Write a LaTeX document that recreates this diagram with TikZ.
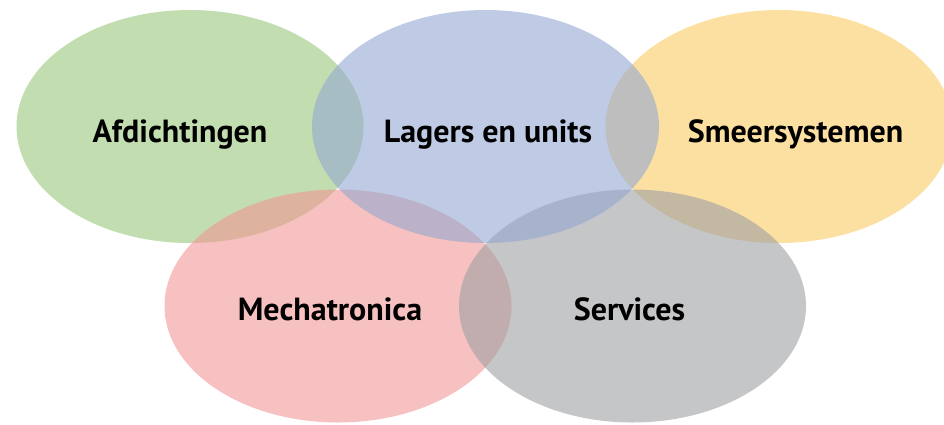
\documentclass[tikz,border=0pt]{standalone}
\usepackage{fontspec}
\setmainfont{PT Sans}
\begin{document}
\begin{tikzpicture}[x=1pt,y=-1pt,
  lbl/.style={font=\fontsize{32}{32}\selectfont\bfseries, anchor=base, text=black, inner sep=0pt}]
\useasboundingbox (0,0) rectangle (944,424);
\definecolor{cgreen}{RGB}{153,198,123}
\definecolor{cblue}{RGB}{148,168,210}
\definecolor{cyellow}{RGB}{250,203,98}
\definecolor{cred}{RGB}{240,152,150}
\definecolor{cgray}{RGB}{158,160,163}
\tikzset{blob/.style={fill=#1, fill opacity=0.6, draw=none}}
\fill[blob=cgreen]  (190,126.5) ellipse [x radius=173.5, y radius=116.5];
\fill[blob=cyellow] (779,126.5) ellipse [x radius=173.5, y radius=116.5];
\fill[blob=cred]    (338,306) ellipse [x radius=173.5, y radius=116.5];
\fill[blob=cgray]   (632.5,306) ellipse [x radius=173.5, y radius=116.5];
\fill[blob=cblue]   (485.5,126.5) ellipse [x radius=173.5, y radius=116.5];
\node[lbl] (a) at (180,142) {Afdichtingen};
\node[lbl] (b) at (488,142) {Lagers en units};
\node[lbl] (c) at (795.5,142) {Smeersystemen};
\node[lbl] (d) at (330,320) {Mechatronica};
\node[lbl] (e) at (629.5,320) {Services};
\end{tikzpicture}
\end{document}
